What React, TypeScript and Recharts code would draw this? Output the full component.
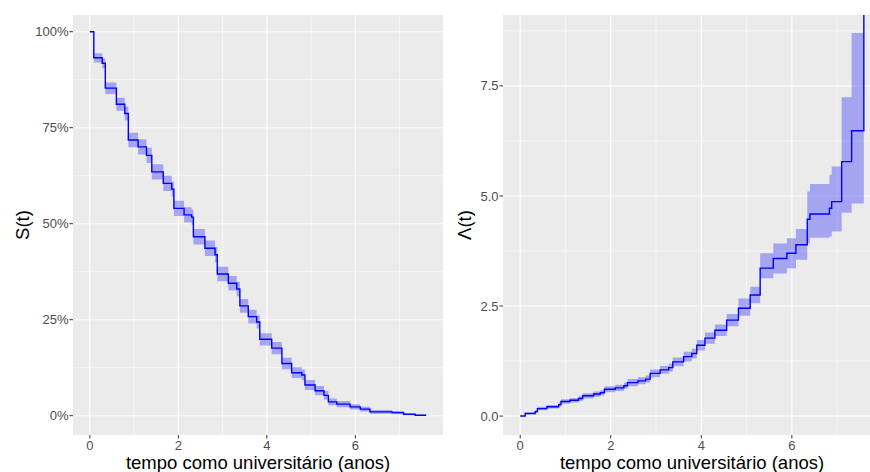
import { Area, CartesianGrid, ComposedChart, Label, Line, XAxis, YAxis } from 'recharts'

// Kaplan-Meier S(t) in %, with confidence band
const survTime = [0, 0.09, 0.28, 0.35, 0.6, 0.79, 0.87, 1.09, 1.28, 1.4, 1.66, 1.85, 1.9, 2.13, 2.3, 2.34, 2.6, 2.83, 2.88, 3.13, 3.32, 3.39, 3.58, 3.77, 3.84, 4.11, 4.34, 4.56, 4.79, 4.86, 5.09, 5.29, 5.39, 5.58, 5.88, 6.11, 6.33, 6.83, 7.09, 7.35, 7.6]
const survS = [100, 93.2, 91.8, 85.3, 81.1, 78.7, 71.8, 70.0, 67.8, 63.5, 60.5, 59.0, 54.0, 52.3, 51.7, 46.6, 43.6, 41.9, 36.9, 34.5, 33.0, 28.6, 25.8, 24.4, 19.9, 17.6, 13.6, 11.2, 10.6, 8.0, 6.5, 5.3, 3.6, 3.0, 2.3, 1.7, 1.0, 0.8, 0.36, 0.1, 0.1]
const survLo = [100, 92.0, 90.5, 83.8, 79.4, 76.9, 69.9, 68.0, 65.8, 61.5, 58.5, 57.0, 52.0, 50.3, 49.7, 44.6, 41.6, 39.9, 35.0, 32.6, 31.1, 26.8, 24.0, 22.7, 18.3, 16.0, 12.1, 9.8, 9.2, 6.7, 5.3, 4.2, 2.7, 2.2, 1.6, 1.1, 0.5, 0.4, 0.1, 0, 0]
const survHi = [100, 94.4, 93.1, 86.8, 82.8, 80.5, 73.7, 72.0, 69.8, 65.5, 62.5, 61.0, 56.0, 54.3, 53.7, 48.6, 45.6, 43.9, 38.8, 36.4, 34.9, 30.4, 27.6, 26.1, 21.5, 19.2, 15.1, 12.6, 12.0, 9.3, 7.7, 6.4, 4.5, 3.8, 3.0, 2.3, 1.5, 1.2, 0.6, 0.3, 0.3]

// cumulative hazard Λ(t), with confidence band
const hazTime = [0, 0.11, 0.33, 0.38, 0.59, 0.85, 0.9, 1.1, 1.29, 1.38, 1.62, 1.77, 1.86, 2.1, 2.29, 2.37, 2.6, 2.77, 2.87, 3.09, 3.28, 3.37, 3.61, 3.79, 3.9, 4.08, 4.3, 4.56, 4.82, 5.08, 5.3, 5.59, 5.89, 6.09, 6.34, 6.4, 6.83, 6.88, 7.1, 7.32, 7.59]
const hazH = [0, 0.06, 0.1, 0.17, 0.21, 0.26, 0.33, 0.36, 0.4, 0.46, 0.5, 0.53, 0.61, 0.64, 0.69, 0.76, 0.8, 0.84, 0.97, 1.05, 1.1, 1.23, 1.35, 1.42, 1.61, 1.77, 1.95, 2.18, 2.45, 2.75, 3.36, 3.58, 3.7, 3.89, 4.47, 4.59, 4.72, 4.87, 5.78, 6.48, 10]
const hazLo = [0, 0.04, 0.07, 0.13, 0.17, 0.21, 0.28, 0.31, 0.34, 0.4, 0.44, 0.47, 0.54, 0.57, 0.62, 0.68, 0.72, 0.76, 0.88, 0.96, 1.01, 1.13, 1.24, 1.31, 1.49, 1.64, 1.82, 2.04, 2.28, 2.56, 3.13, 3.24, 3.36, 3.55, 3.93, 4.05, 4.08, 4.19, 4.62, 4.83, 4.83]
const hazHi = [0, 0.08, 0.13, 0.21, 0.25, 0.31, 0.38, 0.41, 0.46, 0.52, 0.56, 0.59, 0.68, 0.71, 0.76, 0.84, 0.88, 0.92, 1.06, 1.14, 1.19, 1.33, 1.46, 1.53, 1.73, 1.9, 2.08, 2.32, 2.67, 2.94, 3.7, 3.92, 4.04, 4.25, 5.1, 5.27, 5.48, 5.67, 7.24, 8.7, 8.7]

const xTicks = [0, 2, 4, 6]
const xMinor = [1, 3, 5, 7]
const survTicks = [0, 25, 50, 75, 100]
const survMinor = [12.5, 37.5, 62.5, 87.5]
const hazTicks = [0, 2.5, 5, 7.5]
const hazMinor = [1.25, 3.75, 6.25, 8.75]

const survData = survTime.map((t, i) => ({ t, y: survS[i], band: [survLo[i], survHi[i]] }))
const hazData = hazTime.map((t, i) => ({ t, y: hazH[i], band: [hazLo[i], hazHi[i]] }))

const font = '"Liberation Sans", Arial, Helvetica, sans-serif'
const tickStyle = { fill: '#4D4D4D', fontSize: 13, fontFamily: font }

function xTitle(cx: number) {
  return () => (
    <text x={cx} y={468.5} textAnchor="middle" fontSize={18.5} fontFamily={font} fill="#000">
      tempo como universitário (anos)
    </text>
  )
}

function yTitle(cx: number, text: string) {
  return () => (
    <text
      x={cx}
      y={225}
      transform={`rotate(-90 ${cx} 225)`}
      textAnchor="middle"
      dominantBaseline="central"
      fontSize={18.5}
      fontFamily={font}
      fill="#000"
    >
      {text}
    </text>
  )
}

type PanelProps = {
  data: { t: number; y: number; band: number[] }[]
  width: number
  right: number
  yDomain: number[]
  yTicks: number[]
  yMinor: number[]
  fmt: (v: number) => string
  title: string
  titleX: number
  xTitleX: number
}

function Panel({ data, width, right, yDomain, yTicks, yMinor, fmt, title, titleX, xTitleX }: PanelProps) {
  return (
    <ComposedChart width={width} height={472} data={data} margin={{ top: 15, right, bottom: 0, left: 0 }}>
      <CartesianGrid
        fill="#EBEBEB"
        fillOpacity={1}
        stroke="#FFFFFF"
        strokeWidth={0.55}
        horizontalValues={yMinor}
        verticalValues={xMinor}
      />
      <CartesianGrid stroke="#FFFFFF" strokeWidth={1.1} horizontalValues={yTicks} verticalValues={xTicks} />
      <XAxis
        dataKey="t"
        type="number"
        domain={[-0.38, 7.98]}
        ticks={xTicks}
        allowDataOverflow
        height={37}
        axisLine={false}
        tickSize={3.5}
        tickMargin={2.3}
        tickLine={{ stroke: '#333333' }}
        tick={tickStyle}
      >
        <Label content={xTitle(xTitleX)} />
      </XAxis>
      <YAxis
        type="number"
        domain={yDomain}
        ticks={yTicks}
        allowDataOverflow
        width={73}
        axisLine={false}
        tickSize={3.5}
        tickMargin={1}
        tickLine={{ stroke: '#333333' }}
        tick={tickStyle}
        tickFormatter={fmt}
      >
        <Label content={yTitle(titleX, title)} />
      </YAxis>
      <Area
        dataKey="band"
        type="stepAfter"
        stroke="none"
        fill="#0000FF"
        fillOpacity={0.3}
        isAnimationActive={false}
      />
      <Line
        dataKey="y"
        type="stepAfter"
        stroke="#0000FF"
        strokeWidth={1.4}
        dot={false}
        activeDot={false}
        isAnimationActive={false}
      />
    </ComposedChart>
  )
}

export default function App() {
  return (
    <div
      style={{
        position: 'absolute',
        left: 0,
        top: 0,
        width: 870,
        height: 472,
        overflow: 'hidden',
        background: '#FFFFFF',
      }}
    >
      <div style={{ position: 'absolute', left: 0, top: 0 }}>
        <Panel
          data={survData}
          width={450}
          right={7}
          yDomain={[-5.03, 104.35]}
          yTicks={survTicks}
          yMinor={survMinor}
          fmt={(v) => `${v}%`}
          title="S(t)"
          titleX={22}
          xTitleX={258}
        />
      </div>
      <div style={{ position: 'absolute', left: 430, top: 0 }}>
        <Panel
          data={hazData}
          width={460}
          right={8.5}
          yDomain={[-0.43, 9.11]}
          yTicks={hazTicks}
          yMinor={hazMinor}
          fmt={(v) => v.toFixed(1)}
          title="Λ(t)"
          titleX={34}
          xTitleX={262}
        />
      </div>
    </div>
  )
}
